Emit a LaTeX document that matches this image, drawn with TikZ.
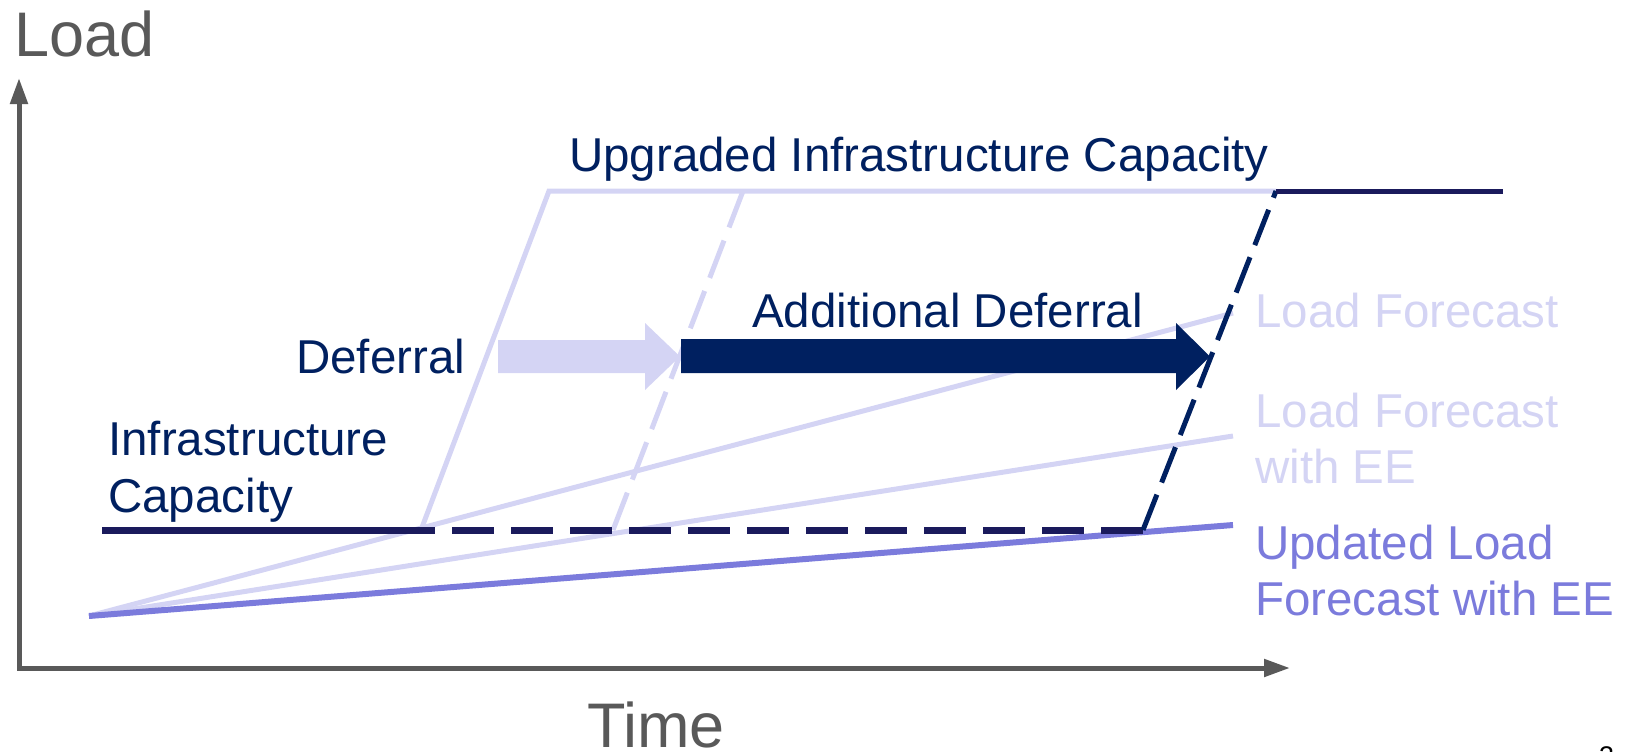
\documentclass[tikz,border=0pt]{standalone}
\usepackage{fontspec}
\setmainfont{Liberation Sans}
\usetikzlibrary{arrows.meta}
\definecolor{navy}{HTML}{002060}
\definecolor{navyline}{HTML}{1A1A5C}
\definecolor{lav}{HTML}{D4D4F4}
\definecolor{upd}{HTML}{7B7BDC}
\definecolor{axisgray}{HTML}{595959}
\begin{document}
\begin{tikzpicture}[x=1bp,y=-1bp,
  lbl/.style={anchor=base west, inner sep=0pt, font=\fontsize{47.5bp}{57bp}\selectfont},
  axlbl/.style={anchor=base west, inner sep=0pt, text=axisgray, font=\fontsize{63bp}{70bp}\selectfont},
  lightline/.style={lav, line width=5bp},
  darkdash/.style={navy, line width=5bp, dash pattern=on 38bp off 13bp},
  lightdash/.style={lav, line width=5bp, dash pattern=on 40bp off 14bp}]
\useasboundingbox (0,0) rectangle (1629,752);
% coordinates
\coordinate (ytip) at (19,78);
\coordinate (corner) at (19,668);
\coordinate (xtip) at (1290,668);
\coordinate (O) at (89,616);
\coordinate (lfEnd) at (1233,313);
\coordinate (lfeeEnd) at (1233,436);
\coordinate (updEnd) at (1233,525);
\coordinate (infS) at (102,530);
\coordinate (infA) at (421,530);
\coordinate (infB) at (613,530);
\coordinate (infC) at (1143,530);
\coordinate (upA) at (549,191);
\coordinate (upB) at (743,191);
\coordinate (upC) at (1276,191);
\coordinate (upD) at (1503,191);
% axes
\draw[axisgray, line width=5bp, line join=miter,
  {Triangle[length=26bp,width=17bp]}-{Triangle[length=26bp,width=17bp]}] (ytip) -- (corner) -- (xtip);
% forecast lines
\draw[lightline] (O) -- (lfEnd);
\draw[lightline] (O) -- (lfeeEnd);
\draw[upd, line width=6bp] (O) -- (updEnd);
% upgraded capacity light and slants
\draw[lightline] (infA) -- (upA) -- (upC);
\draw[lightdash] (infB) -- (upB);
% infrastructure capacity
\draw[navyline, line width=7bp] (infS) -- (435,530);
\draw[navyline, line width=7bp, dash pattern=on 42bp off 17bp, dash phase=-17bp] (435,530) -- (infC);
\draw[darkdash] (infC) -- (upC);
\draw[navyline, line width=5bp] (upC) -- (upD);
% deferral arrows
\fill[lav] (498,340) -- (645,340) -- (645,323) -- (680,356.5) -- (645,390) -- (645,373) -- (498,373) -- cycle;
\fill[navy] (681,339) -- (1176,339) -- (1176,323) -- (1210,356.5) -- (1176,390) -- (1176,373) -- (681,373) -- cycle;
% labels
\node[axlbl] (load) at (14,57) {Load};
\node[axlbl] (time) at (587,747) {Time};
\node[lbl, text=navy] (upg) at (569,171) {Upgraded Infrastructure Capacity};
\node[lbl, text=navy] (def) at (296,373) {Deferral};
\node[lbl, text=navy] (adddef) at (752,327) {Additional Deferral};
\node[lbl, text=navy] (infra1) at (108,455) {Infrastructure};
\node[lbl, text=navy] (infra2) at (108,512) {Capacity};
\node[lbl, text=lav] (lf) at (1255,327) {Load Forecast};
\node[lbl, text=lav] (lfee1) at (1255,427) {Load Forecast};
\node[lbl, text=lav] (lfee2) at (1255,483) {with EE};
\node[lbl, text=upd] (updl1) at (1255,559) {Updated Load};
\node[lbl, text=upd] (updl2) at (1255,615) {Forecast with EE};
\node[anchor=north west, inner sep=0pt, font=\fontsize{27bp}{30bp}\selectfont] (pg) at (1599,746) {3};
\end{tikzpicture}
\end{document}
